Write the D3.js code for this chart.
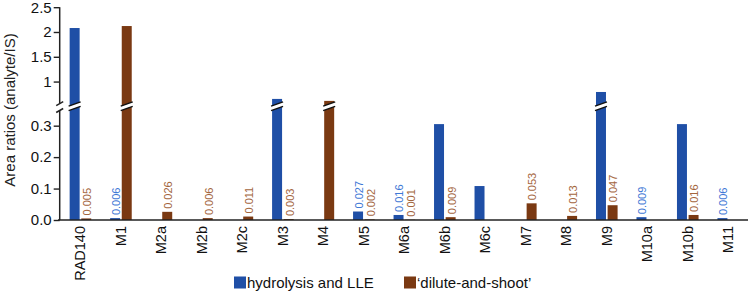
<!DOCTYPE html>
<html>
<head>
<meta charset="utf-8">
<script src="https://cdn.jsdelivr.net/npm/d3@7"></script>
<style>
  body { margin: 0; background: #fff; }
  text { font-family: "Liberation Sans", Arial, sans-serif; }
</style>
</head>
<body>
<div id="chart"></div>
<script>
// Data
const categories = ["RAD140", "M1", "M2a", "M2b", "M2c", "M3", "M4", "M5", "M6a",
                    "M6b", "M6c", "M7", "M8", "M9", "M10a", "M10b", "M11"];
const hydrolysis = [2.08, 0.006, null, null, null, 0.65, null, 0.027, 0.016,
                    0.305, 0.108, null, null, 0.79, 0.009, 0.305, 0.006];
const dilute = [0.005, 2.12, 0.026, 0.006, 0.011, 0.003, 0.61, 0.002, 0.001,
                0.009, null, 0.053, 0.013, 0.047, null, 0.016, null];
const seriesNames = ["hydrolysis and LLE", "\u2018dilute-and-shoot\u2019"];
const lowTicks = [0, 0.1, 0.2, 0.3];
const highTicks = [1, 1.5, 2, 2.5];

const W = 749, H = 291;
const colors = ["#1f4fa6", "#7a3912"];
const labelColors = ["#3f79d6", "#a4663e"];

const svg = d3.select("#chart").append("svg")
    .attr("width", W)
    .attr("height", H);

// Scales: the y axis is broken in two segments
const x = d3.scaleBand()
    .domain(categories)
    .range([59.7, 748]);

const x1 = d3.scaleBand()
    .domain([0, 1])
    .range([-10.3, 11.3])
    .paddingInner(0.14);

const yLow = d3.scaleLinear().domain([0, 0.34]).range([220, 113.1]);
const yHigh = d3.scaleLinear().domain([0.6, 2.5]).range([101.4, 7.2]);
const yVal = v => v <= 0.34 ? yLow(v) : yHigh(v);

// Rows for bars
const rows = [];
categories.forEach((c, i) => {
    [hydrolysis[i], dilute[i]].forEach((v, s) => {
        if (v !== null) rows.push({cat: c, s: s, v: v});
    });
});

const cx = d => x(d.cat) + x.bandwidth() / 2 + x1(d.s);

svg.append("g").selectAll("rect")
    .data(rows)
    .enter().append("rect")
    .attr("x", cx)
    .attr("width", x1.bandwidth())
    .attr("y", d => yVal(d.v))
    .attr("height", d => yLow(0) - yVal(d.v))
    .attr("fill", d => colors[d.s]);

// break marks on the tall bars
const tall = rows.filter(d => d.v > 0.34);
const brk = svg.append("g");
tall.forEach(d => {
    const x0 = cx(d) - 1, xw = x1.bandwidth() + 2;
    brk.append("path")
        .attr("d", `M${x0},${106.2}L${x0 + xw},${101.8}L${x0 + xw},${106.3}L${x0},${110.7}Z`)
        .attr("fill", "#fff");
    [[106.2, 101.8], [110.7, 106.3]].forEach(([a, b]) => {
        brk.append("line")
            .attr("x1", x0).attr("y1", a)
            .attr("x2", x0 + xw).attr("y2", b)
            .attr("stroke", "#111")
            .attr("stroke-width", 1.4);
    });
});

// value labels for the small bars
svg.append("g").selectAll("text")
    .data(rows.filter(d => d.v < 0.06))
    .enter().append("text")
    .attr("transform", d => `translate(${cx(d) + x1.bandwidth() / 2 + 1},${yVal(d.v) - 3}) rotate(-90)`)
    .attr("dy", "0.35em")
    .style("font-size", "11px")
    .attr("fill", d => labelColors[d.s])
    .text(d => d3.format(".3f")(d.v));

// Y axes
const axX = 59.7;
function styleAxis(g) {
    g.select(".domain").remove();
    g.selectAll(".tick line").attr("stroke", "#222").attr("stroke-width", 1.4);
    g.selectAll(".tick text").style("font-size", "15px").attr("fill", "#111");
}

svg.append("g")
    .attr("transform", `translate(${axX},0)`)
    .call(d3.axisLeft(yLow).tickValues(lowTicks).tickFormat(d3.format(".1f"))
        .tickSize(6).tickPadding(2))
    .call(styleAxis);

svg.append("g")
    .attr("transform", `translate(${axX},0)`)
    .call(d3.axisLeft(yHigh).tickValues(highTicks).tickFormat(d3.format("~g"))
        .tickSize(6).tickPadding(2))
    .call(styleAxis);

const axisLines = [
    [axX, 7.2, axX, 103.6],
    [axX, 110.5, axX, 220],
    [56.2, 105.6, 63.2, 101.6],
    [56.2, 112.5, 63.2, 108.5],
    [58, 220, 748, 220]
];
svg.append("g").selectAll("line")
    .data(axisLines)
    .enter().append("line")
    .attr("x1", d => d[0]).attr("y1", d => d[1])
    .attr("x2", d => d[2]).attr("y2", d => d[3])
    .attr("stroke", "#222")
    .attr("stroke-width", 1.5);

// X axis labels
const xAxis = svg.append("g")
    .attr("transform", "translate(0,220)")
    .call(d3.axisBottom(x).tickSize(0).tickPadding(0));
xAxis.select(".domain").remove();
xAxis.selectAll(".tick text")
    .attr("transform", "rotate(-90)")
    .attr("x", -6)
    .attr("y", 0)
    .attr("dy", "0.36em")
    .style("text-anchor", "end")
    .style("font-size", "14.5px")
    .attr("fill", "#111");

// Y title
svg.append("text")
    .attr("transform", "translate(15,110) rotate(-90)")
    .style("text-anchor", "middle")
    .style("font-size", "15px")
    .attr("fill", "#222")
    .text("Area ratios (analyte/IS)");

// Legend
const legendX = [234, 404];
const legend = svg.append("g").selectAll("g")
    .data(seriesNames)
    .enter().append("g")
    .attr("transform", (d, i) => `translate(${legendX[i]},276.5)`);
legend.append("rect")
    .attr("width", 12).attr("height", 12)
    .attr("fill", (d, i) => colors[i]);
legend.append("text")
    .attr("x", 13).attr("y", 11)
    .style("font-size", "15px")
    .attr("fill", "#111")
    .text(d => d);
</script>
</body>
</html>
